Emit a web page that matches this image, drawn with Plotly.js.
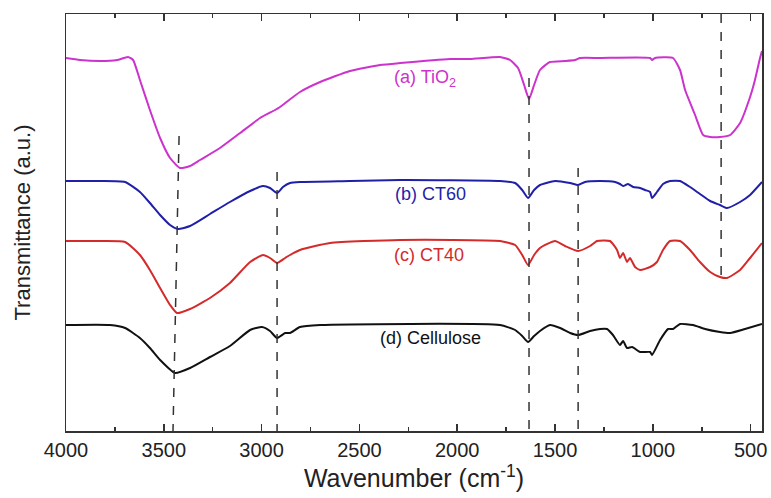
<!DOCTYPE html>
<html>
<head>
<meta charset="utf-8">
<script src="https://cdn.plot.ly/plotly-3.0.1.min.js"></script>
<style>html,body{margin:0;padding:0;background:#fff;}#chart{width:771px;height:498px;}</style>
</head>
<body>
<div id="chart"></div>
<script>
// Wavenumbers (cm^-1) and transmittance (a.u.)
var tio2X = [4000,3928,3826,3739,3683,3657,3622,3571,3519,3468,3417,3366,3315,3213,3110,3008,2931,2906,2804,2701,2548,2395,2292,2037,1935,1781,1730,1689,1658,1633,1607,1577,1526,1449,1398,1372,1270,1014,1004,989,897,861,835,784,743,707,657,605,554,503,478,452,442];
var tio2Y = [373,371,370,371,374,371,351,321,293,273,263,265,271,283,298,313,321,324,339,349,360,366,368,372,372,374,371,363,346,332,346,361,369,370,371,373,373,373,371,373,373,361,341,316,296,294,294,296,308,334,351,373,380];

var ct60X = [4000,3826,3698,3622,3571,3519,3468,3427,3366,3264,3162,3059,2993,2957,2921,2891,2855,2804,2548,2292,1781,1704,1668,1638,1607,1577,1500,1423,1382,1347,1270,1193,1168,1152,1127,1101,1065,1040,1014,1004,979,948,912,861,810,759,707,657,621,554,503,442];
var ct60Y = [250,250,249,239,228,216,206,202,205,217,229,240,245,243,238,244,248,249,250,251,250,248,241,233,241,246,250,248,246,249,250,249,247,245,247,244,243,241,239,233,239,247,250,250,244,237,230,226,223,229,236,249];

var ct40X = [4000,3826,3698,3622,3571,3519,3468,3433,3366,3264,3162,3059,2993,2957,2921,2880,2855,2804,2650,2292,1781,1704,1668,1638,1607,1577,1500,1449,1382,1321,1285,1219,1183,1168,1152,1132,1117,1091,1065,1014,979,948,912,861,810,759,707,657,621,554,503,442];
var ct40Y = [190,190,189,176,161,143,126,118,122,133,148,169,176,173,168,173,176,181,188,191,190,186,176,166,176,183,190,185,180,185,190,190,181,173,178,169,173,164,161,164,169,181,190,190,181,169,159,154,153,161,173,188];

var celX = [4000,3775,3698,3622,3571,3519,3443,3366,3264,3162,3059,2998,2957,2921,2880,2855,2804,2701,1781,1704,1668,1638,1607,1577,1526,1474,1423,1382,1321,1270,1234,1204,1168,1152,1132,1106,1065,1014,1004,963,922,897,861,795,733,657,605,529,442];
var celY = [106,106,103,93,83,71,58,63,74,85,101,104,100,93,98,98,104,106,106,101,95,89,95,100,106,103,98,96,100,102,102,96,86,90,83,84,79,79,76,91,102,102,107,106,102,99,98,102,107];

// Reference dashed lines: x at top, x at bottom, y top, y bottom
var dashTopX = [3422,2921,1633,1382,651];
var dashBotX = [3453,2921,1633,1382,651];
var dashTopY = [295,259,353,263,417];
var dashBotY = [0,0,0,0,148];

var labels = ['(a) TiO<sub>2</sub>','(b) CT60','(c) CT40','(d) Cellulose'];
var labelX = [2165,2139,2144,2139];
var labelY = [353,237,176,93];
var colors = ['#cc33cc','#1f1fa8','#d42a2a','#111111'];

var series = [[tio2X,tio2Y],[ct60X,ct60Y],[ct40X,ct40Y],[celX,celY]];
var traces = series.map(function(s,i){
  return {x:s[0], y:s[1], type:'scatter', mode:'lines', line:{color:colors[i], width:2, shape:'spline', smoothing:0.5}, hoverinfo:'skip'};
});

var shapes = dashTopX.map(function(x,i){
  return {type:'line', xref:'x', yref:'y', x0:x, x1:dashBotX[i], y0:dashTopY[i], y1:dashBotY[i], line:{color:'#333', width:1.5, dash:'dash'}};
});

var annotations = labels.map(function(t,i){
  return {x:labelX[i], y:labelY[i], xref:'x', yref:'y', text:t, showarrow:false, font:{family:'Liberation Sans, Arial, sans-serif', size:18, color:colors[i]}};
});

var layout = {
  width:771, height:498,
  margin:{l:66, r:9, t:14, b:67},
  paper_bgcolor:'#fff', plot_bgcolor:'#fff',
  showlegend:false,
  font:{family:'Liberation Sans, Arial, sans-serif', color:'#222'},
  xaxis:{
    range:[4000,442], autorange:false,
    tickvals:[4000,3500,3000,2500,2000,1500,1000,500],
    ticks:'inside', ticklen:7, tickwidth:1.5, tickcolor:'#333',
    minor:{dtick:250, tick0:0, ticks:'inside', ticklen:4, tickwidth:1.5, tickcolor:'#333'},
    showline:true, linecolor:'#333', linewidth:1.5, mirror:'ticks',
    showgrid:false, zeroline:false,
    tickfont:{size:20, color:'#222'},
    title:{text:'Wavenumber (cm<sup>-1</sup>)', font:{size:25, color:'#222'}, standoff:6}
  },
  yaxis:{
    range:[0,417], autorange:false,
    showticklabels:false, ticks:'',
    showline:true, linecolor:'#333', linewidth:1.5, mirror:true,
    showgrid:false, zeroline:false,
    title:{text:'Transmittance (a.u.)', font:{size:22, color:'#222'}, standoff:28}
  },
  shapes:shapes,
  annotations:annotations
};

Plotly.newPlot('chart', traces, layout, {staticPlot:true, displayModeBar:false});
</script>
</body>
</html>
